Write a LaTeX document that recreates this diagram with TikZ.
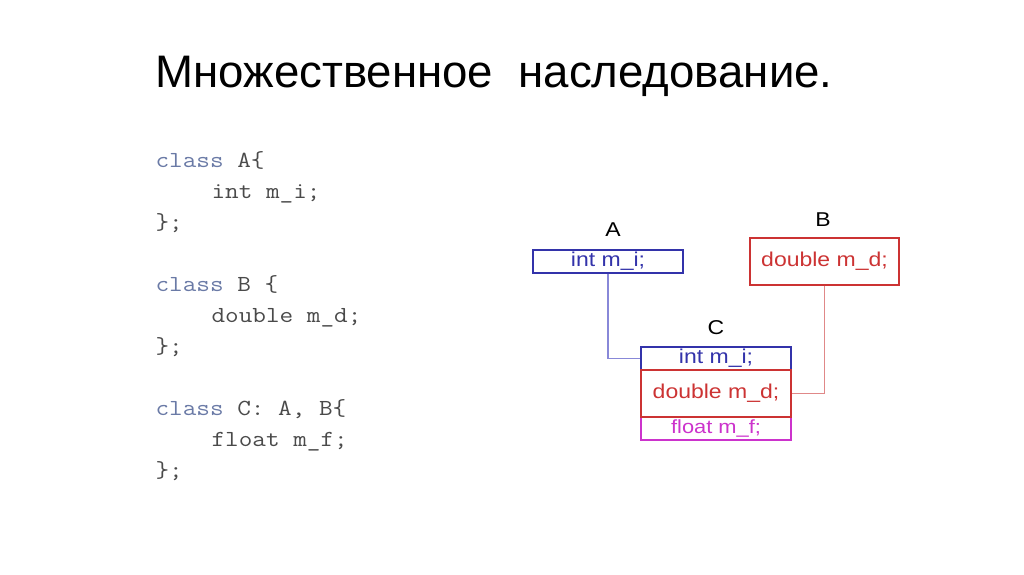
\documentclass[tikz,border=0pt]{standalone}
\usepackage{fontspec}
\setmainfont{Liberation Sans}
\newfontfamily\diagfont[FakeStretch=1.15]{Liberation Sans}
\newfontfamily\codefont[FakeStretch=1.15]{Latin Modern Mono}
\usepackage{xcolor}
\definecolor{kwcol}{HTML}{6A7AA6}
\definecolor{codecol}{HTML}{4A4A4A}
\definecolor{fldblue}{HTML}{3333AA}
\definecolor{fldred}{HTML}{CC3333}
\definecolor{fldmag}{HTML}{CC33CC}
\definecolor{lnblue}{HTML}{8888D8}
\definecolor{lnred}{HTML}{E08888}

\begin{document}
\begin{tikzpicture}[x=1pt, y=-1pt, line width=1.2pt,
    code/.style={anchor=base west, inner sep=0pt, text=codecol,
        font=\codefont\fontsize{23}{23}\selectfont},
    field/.style={draw, inner sep=0pt, minimum width=150pt,
        font=\diagfont\fontsize{20}{20}\selectfont},
    lbl/.style={inner sep=0pt, font=\diagfont\fontsize{20}{20}\selectfont}]
    \useasboundingbox (0,0) rectangle (1024,574);
    % Title
    \node[anchor=base west, inner sep=0pt, font=\fontsize{45.6}{46}\selectfont]
        (title) at (155,87) {Множественное\ \ наследование.};
    % Source code
    \node[code] (ca1) at (155,167) {\textcolor{kwcol}{class} A\{};
    \node[code] (ca2) at (211,198) {int m\_i;};
    \node[code] (ca3) at (155,229) {\};};
    \node[code] (cb1) at (155,291) {\textcolor{kwcol}{class} B \{};
    \node[code] (cb2) at (211,322) {double m\_d;};
    \node[code] (cb3) at (155,353) {\};};
    \node[code] (cc1) at (155,415) {\textcolor{kwcol}{class} C: A, B\{};
    \node[code] (cc2) at (211,446) {float m\_f;};
    \node[code] (cc3) at (155,477) {\};};
    % Class A and B
    \node[lbl] (labA) at (613,230) {A};
    \node[field, fldblue, minimum height=23pt] (boxA) at (608,261.5) {int m\_i;};
    \node[lbl] (labB) at (823,220) {B};
    \node[field, fldred, minimum width=149pt, minimum height=47pt] (boxB)
        at (824.5,261.5) {double m\_d;};
    % Class C
    \node[lbl] (labC) at (716,328) {C};
    \node[field, fldblue, minimum height=23pt] (cInt) at (716,358.5) {int m\_i;};
    \node[field, fldmag, minimum height=23pt, font=\diagfont\fontsize{19}{19}\selectfont]
        (cFlt) at (716,428.5) {float m\_f;};
    \node[field, fldred, minimum height=47pt] (cDbl) at (716,393.5) {double m\_d;};
    % Links
    \draw[lnblue] (boxA.south) |- (cInt.west);
    \draw[lnred] (boxB.south) |- (cDbl.east);
\end{tikzpicture}
\end{document}
